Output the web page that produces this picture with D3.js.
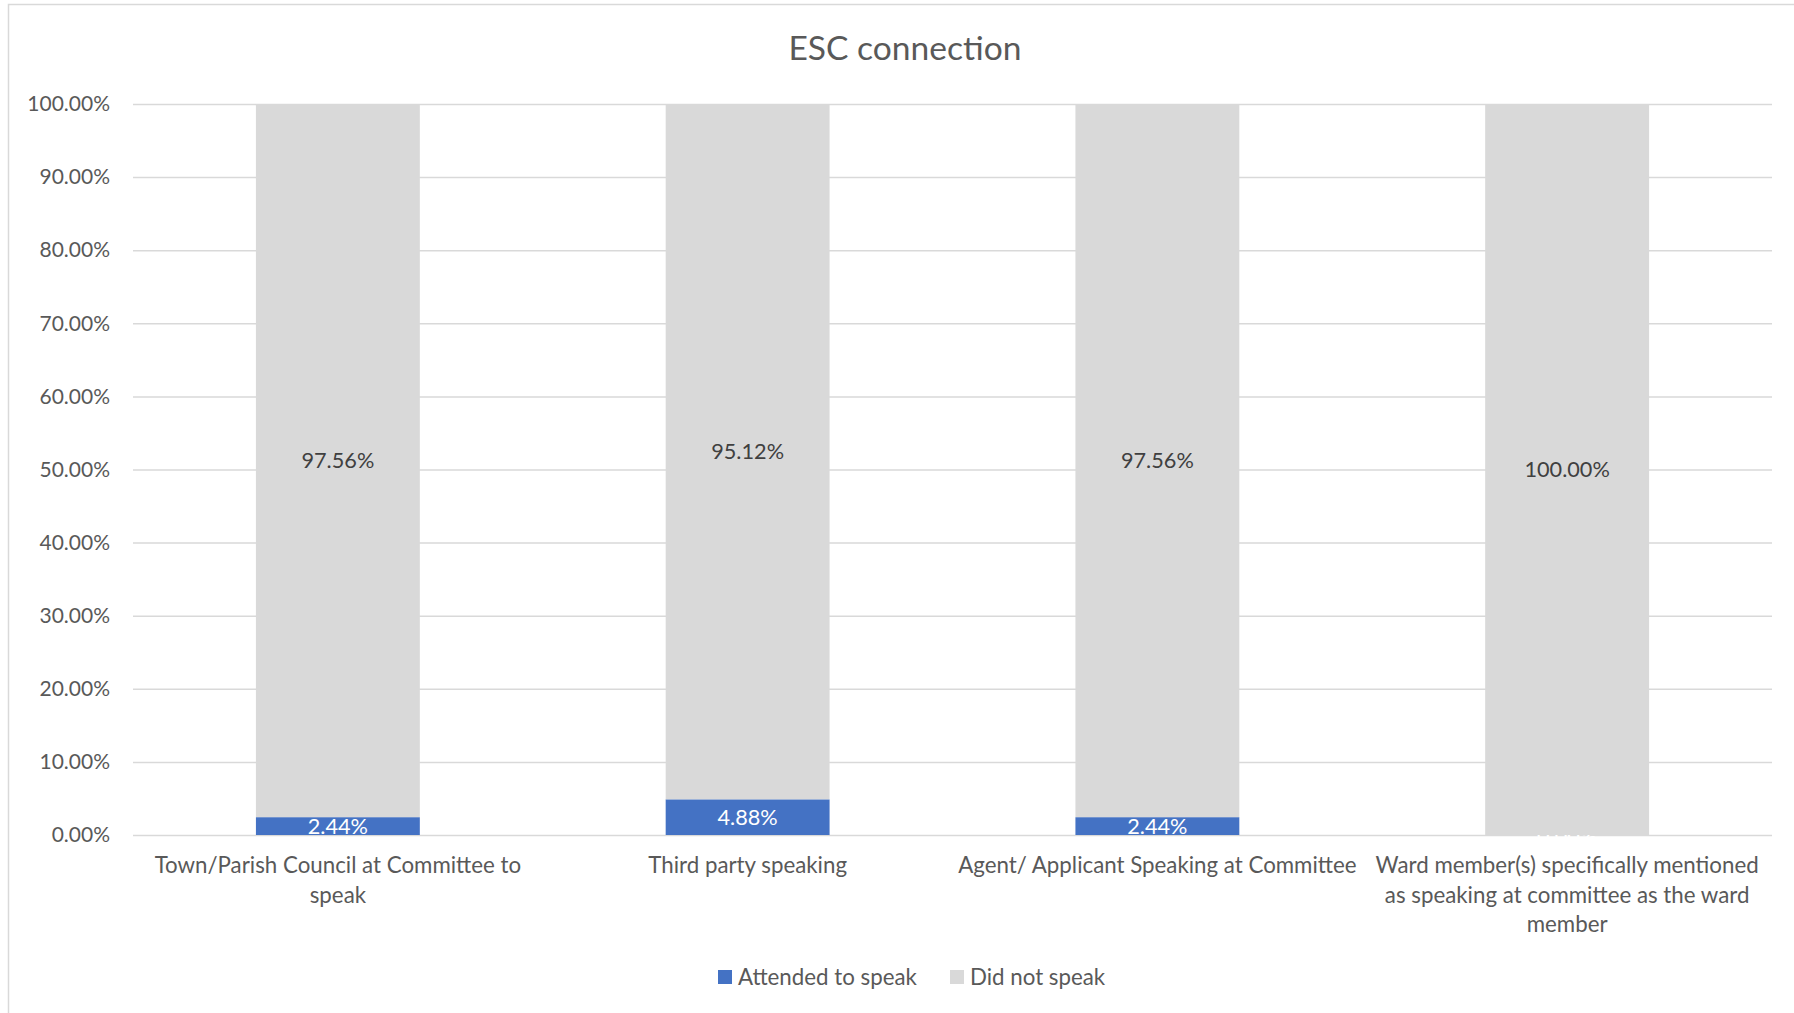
<!DOCTYPE html>
<html>
<head>
<meta charset="utf-8">
<script src="https://cdn.jsdelivr.net/npm/d3@7"></script>
<style>
body{margin:0;background:#fff}
svg{display:block}
</style>
</head>
<body>
<svg id="chart"></svg>
<script>
const categories = [
	'Town/Parish Council at Committee to speak',
	'Third party speaking',
	'Agent/ Applicant Speaking at Committee',
	'Ward member(s) specifically mentioned as speaking at committee as the ward member'
]
// how Excel wrapped the axis labels
const catLines = [
	['Town/Parish Council at Committee to','speak'],
	['Third party speaking'],
	['Agent/ Applicant Speaking at Committee'],
	['Ward member(s) specifically mentioned','as speaking at committee as the ward','member']
]
const seriesNames = ['Attended to speak','Did not speak']
const attended = [0.0244,0.0488,0.0244,0]
const didNot = [0.9756,0.9512,0.9756,1]
const yTicks = [0,0.1,0.2,0.3,0.4,0.5,0.6,0.7,0.8,0.9,1]

const W = 1794, H = 1013
const cols = ['#4472C4','#D9D9D9']
const txt = '#595959'
const font = 'Lato, Carlito, Calibri, sans-serif'

const rows = categories.map((c,i)=>({cat:c, 'Attended to speak':attended[i], 'Did not speak':didNot[i]}))

const svg = d3.select('#chart')
	.attr('width',W)
	.attr('height',H)
	.attr('font-family',font)

// chart area border (cut off on the right and bottom)
svg.append('rect')
	.attr('x',8.5).attr('y',4.5)
	.attr('width',1900).attr('height',1200)
	.attr('fill','#fff')
	.attr('stroke','#D9D9D9')
	.attr('stroke-width',1.5)

const x = d3.scaleBand()
	.domain(categories)
	.range([133,1772])
	.paddingInner(0.6)
	.paddingOuter(0.3)

const y = d3.scaleLinear()
	.domain([0,1])
	.range([835,104])

const fmt = d3.format('.2%')

// gridlines + tick labels
const yAxis = svg.append('g')
	.attr('transform','translate(133,0)')
	.call(d3.axisLeft(y).tickValues(yTicks).tickFormat(fmt).tickSize(-(1772-133)).tickPadding(23))
yAxis.select('.domain').remove()
yAxis.selectAll('line').attr('stroke','#D9D9D9').attr('stroke-width',1.5)
yAxis.selectAll('text')
	.attr('fill',txt)
	.style('font-size','21px')
	.style('font-family',font)

const stack = d3.stack().keys(seriesNames)(rows)

const layers = svg.selectAll('.layer')
	.data(stack)
	.enter()
	.append('g')
	.classed('layer',true)
	.attr('fill',(d,i)=>cols[i])

layers.selectAll('rect')
	.data(d=>d)
	.enter()
	.append('rect')
	.attr('x',d=>x(d.data.cat))
	.attr('width',x.bandwidth())
	.attr('y',d=>y(d[1]))
	.attr('height',d=>y(d[0]) - y(d[1]))

// data labels
layers.selectAll('.lbl')
	.data(d=>d)
	.enter()
	.append('text')
	.classed('lbl',true)
	.attr('x',d=>x(d.data.cat) + x.bandwidth()/2)
	.attr('y',d=>(y(d[0]) + y(d[1]))/2)
	.attr('dy','0.36em')
	.attr('text-anchor','middle')
	.style('font-size','21.7px')
	.attr('fill',function(){ return this.parentNode.__data__.index == 0 ? '#fff' : '#404040' })
	.text(d=>fmt(d[1]-d[0]))

// category labels
const catG = svg.selectAll('.cat')
	.data(categories)
	.enter()
	.append('text')
	.classed('cat',true)
	.attr('text-anchor','middle')
	.attr('fill',txt)
	.style('font-size','22.3px')
	.attr('x',d=>x(d) + x.bandwidth()/2)
	.attr('y',873)

catG.selectAll('tspan')
	.data((d,i)=>catLines[i])
	.enter()
	.append('tspan')
	.attr('x',function(){ return this.parentNode.getAttribute('x') })
	.attr('dy',(d,i)=> i == 0 ? 0 : 29.5)
	.text(d=>d)

// title
svg.append('text')
	.attr('x',905)
	.attr('y',60)
	.attr('text-anchor','middle')
	.attr('fill',txt)
	.style('font-size','33.6px')
	.text('ESC connection')

// legend
const legX = [718,950]
const legendG = svg.selectAll('.legend')
	.data(seriesNames)
	.enter()
	.append('g')
	.classed('legend',true)
	.attr('transform',(d,i)=>`translate(${legX[i]},970)`)

legendG.append('rect')
	.attr('width',14)
	.attr('height',14)
	.attr('fill',(d,i)=>cols[i])

legendG.append('text')
	.attr('x',20)
	.attr('y',7)
	.attr('dy','0.36em')
	.attr('fill',txt)
	.style('font-size','22.3px')
	.text(d=>d)
</script>
</body>
</html>
